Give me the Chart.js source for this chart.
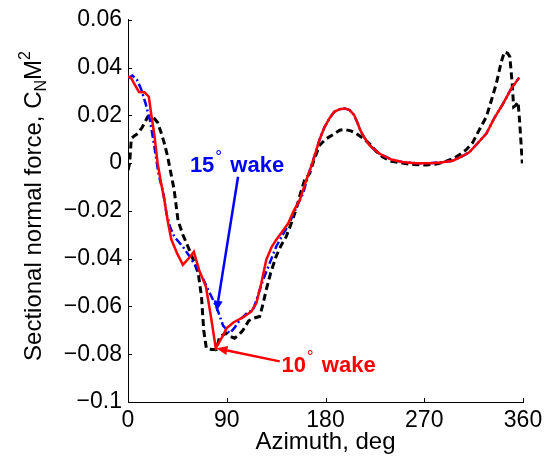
<!DOCTYPE html>
<html>
<head>
<meta charset="utf-8">
<script src="https://cdn.jsdelivr.net/npm/chart.js@4/dist/chart.umd.min.js"></script>
<style>
  html, body { margin: 0; padding: 0; background: #fff; }
  canvas { display: block; }
</style>
</head>
<body>
<canvas id="chart" width="551" height="456"></canvas>
<script>
// ── Axis ticks ────────────────────────────────────────────────
const azTicks = [0, 90, 180, 270, 360];
const cnTicks = [-0.1, -0.08, -0.06, -0.04, -0.02, 0, 0.02, 0.04, 0.06];

// ── 10° wake (red, solid) ─────────────────────────────────────
const redAz = [0, 3, 6, 10, 15, 19, 21, 24, 27, 30, 33, 36.5, 39.5, 45, 50, 57, 60, 65, 71, 75.5, 80,
  86, 90, 96, 106, 112.5, 117, 121.5, 126, 131, 135, 140, 146, 151, 156.5, 162.5, 168, 174.7, 179, 184,
  188, 193, 197.5, 202, 206, 209, 212, 215, 220, 229, 240, 250, 262, 275, 285, 296, 303, 311, 318,
  326.6, 334, 342, 349, 356.5];
const redCn = [0.0363, 0.0355, 0.033, 0.0298, 0.0297, 0.0278, 0.021, 0.012, 0.0, -0.008, -0.015, -0.025,
  -0.032, -0.038, -0.0426, -0.039, -0.0371, -0.045, -0.0517, -0.064, -0.0775,
  -0.0726, -0.069, -0.0667, -0.0642, -0.0621, -0.0586, -0.0503, -0.0405, -0.035, -0.0322, -0.029,
  -0.0252, -0.020, -0.0155, -0.0071, 0.0, 0.010, 0.015, 0.019,
  0.0215, 0.0226, 0.0229, 0.0222, 0.0202, 0.017, 0.0135, 0.011, 0.0075, 0.004, 0.0015, 0.0005, 0.0,
  0.0, 0.0003, 0.001, 0.0025, 0.0045, 0.008,
  0.0124, 0.019, 0.025, 0.031, 0.0358];

// ── 15° wake (blue, dash-dot) ─────────────────────────────────
const blueAz = [0, 4, 8, 12, 16, 20, 24, 28, 32, 35, 38.5, 42.5, 50, 56, 62, 68, 73, 80.5, 86.6, 92.7,
  97, 102, 108, 114, 118, 123, 129, 135, 141, 147, 153, 159.5, 165, 170, 174.7, 179, 184, 188, 193,
  197.5, 202, 206, 209, 212, 215, 220, 229, 240, 250, 262, 275, 285, 296, 303, 311, 318, 326.6, 334,
  342, 349, 356.5];
const blueCn = [0.0355, 0.0367, 0.035, 0.031, 0.025, 0.018, 0.007, -0.005, -0.012, -0.021, -0.027,
  -0.031, -0.035, -0.039, -0.0433, -0.048, -0.053, -0.060, -0.068, -0.0712,
  -0.069, -0.0656, -0.063, -0.0614, -0.056, -0.049, -0.042, -0.035, -0.030, -0.0252, -0.019, -0.0127,
  -0.004, 0.003, 0.010, 0.015, 0.019, 0.0215, 0.0226,
  0.0229, 0.0222, 0.0202, 0.017, 0.0135, 0.011, 0.0075, 0.004, 0.0015, 0.0005, 0.0, 0.0, 0.0003,
  0.001, 0.0025, 0.0045, 0.008, 0.0124, 0.019,
  0.025, 0.031, 0.0358];

// ── Reference (black, dashed) ─────────────────────────────────
const blackAz = [0, 1.5, 3, 6, 9, 13, 18, 21, 24, 27, 30, 33, 36, 39, 42, 45.6, 50, 54.7, 60, 64, 67,
  69, 71.4, 76, 80.5, 83.6, 89.7, 93, 97, 101, 105, 110, 114, 120, 123, 126, 130, 135, 140, 144, 149,
  153, 157, 161, 165.6, 170, 174.7, 180, 187, 193, 197.5, 203, 208, 214, 220, 226, 232, 240, 250, 260,
  272, 282, 290, 296, 302, 308, 314, 320, 326.6, 331, 335.7, 340, 343, 346, 348, 350, 351.5, 353,
  355.5, 357, 359.4];
const blackCn = [-0.003, 0.0, 0.0103, 0.0115, 0.0124, 0.015, 0.0194, 0.0195, 0.0187, 0.017, 0.013,
  0.0085, 0.003, -0.004, -0.011, -0.024, -0.030, -0.035, -0.041, -0.046, -0.056,
  -0.070, -0.0775, -0.078, -0.078, -0.0726, -0.0712, -0.0725, -0.0733, -0.072, -0.0698, -0.066,
  -0.065, -0.0642, -0.059, -0.053, -0.046, -0.039, -0.034, -0.031, -0.025,
  -0.0196, -0.013, -0.007, -0.0043, 0.002, 0.0075, 0.010, 0.012, 0.0138, 0.0141, 0.0135, 0.0124,
  0.0105, 0.0082, 0.005, 0.0026, 0.0008, 0.0, -0.0006,
  -0.0008, -0.0003, 0.0008, 0.0018, 0.0035, 0.0055, 0.0085, 0.0138, 0.0194, 0.026, 0.0333, 0.042,
  0.0465, 0.046, 0.0445, 0.034, 0.0235, 0.024,
  0.0256, 0.017, -0.0001];

// ── Annotations (data units) ──────────────────────────────────
const wakeNotes = [
  { num: '15', color: '#0000ff', at: [56.4, -0.0038], tail: [100.3, -0.0057], tip: [80.6, -0.0622] },
  { num: '10', color: '#ff0000', at: [139.8, -0.0875], tail: [138.3, -0.083], tip: [80.6, -0.0775] }
];

const FONT = "'Liberation Sans', Arial, sans-serif";
const zip = (xs, ys) => xs.map((x, i) => ({ x, y: ys[i] }));

function fmtCn(v) {
  if (v === 0) return '0';
  const s = Math.abs(v).toString();
  return (v < 0 ? '\u2212' : '') + s;
}

function arrow(ctx, x1, y1, x2, y2, color) {
  const ang = Math.atan2(y2 - y1, x2 - x1);
  const len = 11, half = 4.5;
  const bx = x2 - len * Math.cos(ang), by = y2 - len * Math.sin(ang);
  ctx.strokeStyle = color;
  ctx.fillStyle = color;
  ctx.lineWidth = 2.5;
  ctx.beginPath();
  ctx.moveTo(x1, y1);
  ctx.lineTo(bx, by);
  ctx.stroke();
  ctx.beginPath();
  ctx.moveTo(x2, y2);
  ctx.lineTo(bx - half * Math.sin(ang), by + half * Math.cos(ang));
  ctx.lineTo(bx + half * Math.sin(ang), by - half * Math.cos(ang));
  ctx.closePath();
  ctx.fill();
}

// ── Plugin: inner ticks, axis titles, wake labels ─────────────
const decor = {
  id: 'decor',
  afterDraw(chart) {
    const { ctx, chartArea: a, scales: { x, y } } = chart;
    ctx.save();

    // inward tick marks
    ctx.strokeStyle = '#000';
    ctx.lineWidth = 1;
    ctx.beginPath();
    azTicks.forEach(v => {
      const px = Math.round(x.getPixelForValue(v)) + 0.5;
      ctx.moveTo(px, a.bottom); ctx.lineTo(px, a.bottom - 4);
    });
    cnTicks.forEach(v => {
      const py = Math.round(y.getPixelForValue(v)) + 0.5;
      ctx.moveTo(a.left, py); ctx.lineTo(a.left + 4, py);
    });
    ctx.stroke();

    // x title
    ctx.fillStyle = '#000';
    ctx.font = `24px ${FONT}`;
    ctx.textAlign = 'center';
    ctx.textBaseline = 'alphabetic';
    ctx.fillText('Azimuth, deg', (a.left + a.right) / 2, 449);

    // y title with sub/superscripts
    const main = 'Sectional normal force, C';
    ctx.font = `24px ${FONT}`;
    const wMain = ctx.measureText(main).width;
    const wM = ctx.measureText('M').width;
    ctx.font = `16px ${FONT}`;
    const wN = ctx.measureText('N').width;
    const w2 = ctx.measureText('2').width;
    const total = wMain + wN + wM + w2;
    ctx.translate(41, 206);
    ctx.rotate(-Math.PI / 2);
    ctx.textAlign = 'left';
    let cx = -total / 2;
    ctx.font = `24px ${FONT}`;
    ctx.fillText(main, cx, 0); cx += wMain;
    ctx.font = `16px ${FONT}`;
    ctx.fillText('N', cx, 5); cx += wN;
    ctx.font = `24px ${FONT}`;
    ctx.fillText('M', cx, 0); cx += wM;
    ctx.font = `16px ${FONT}`;
    ctx.fillText('2', cx, -11);
    ctx.setTransform(1, 0, 0, 1, 0, 0);

    // wake labels + arrows
    wakeNotes.forEach(n => {
      arrow(ctx, x.getPixelForValue(n.tail[0]), y.getPixelForValue(n.tail[1]),
        x.getPixelForValue(n.tip[0]), y.getPixelForValue(n.tip[1]), n.color);
      const tx = x.getPixelForValue(n.at[0]);
      const ty = y.getPixelForValue(n.at[1]);
      ctx.fillStyle = n.color;
      ctx.textAlign = 'left';
      ctx.font = `bold 22px ${FONT}`;
      ctx.fillText(n.num, tx, ty);
      const wNum = ctx.measureText(n.num).width;
      ctx.font = `17px ${FONT}`;
      ctx.fillText('\u00b0', tx + wNum + 1, ty - 10);
      ctx.font = `bold 22px ${FONT}`;
      ctx.fillText('wake', tx + wNum + 16, ty);
    });

    ctx.restore();
  }
};

new Chart(document.getElementById('chart'), {
  type: 'line',
  data: {
    datasets: [
      { label: 'baseline', data: zip(blackAz, blackCn), borderColor: '#000', borderWidth: 3,
        borderDash: [7, 4], order: 3 },
      { label: '15° wake', data: zip(blueAz, blueCn), borderColor: '#0000ff', borderWidth: 2.5,
        borderDash: [8, 3, 2, 3], order: 2 },
      { label: '10° wake', data: zip(redAz, redCn), borderColor: '#ff0000', borderWidth: 2.5, order: 1 }
    ]
  },
  options: {
    responsive: false,
    animation: false,
    devicePixelRatio: 1,
    layout: { padding: { left: 0, right: 28, top: 19, bottom: 0 } },
    elements: { point: { radius: 0 }, line: { tension: 0, fill: false } },
    plugins: { legend: { display: false }, tooltip: { enabled: false } },
    scales: {
      x: {
        type: 'linear', min: 0, max: 360,
        afterBuildTicks: s => { s.ticks = azTicks.map(v => ({ value: v })); },
        afterFit: s => { s.height = 54; },
        ticks: { color: '#000', font: { family: FONT, size: 23 }, padding: 5, maxRotation: 0, autoSkip: false },
        grid: { drawOnChartArea: false, drawTicks: false },
        border: { color: '#000', width: 1 }
      },
      y: {
        type: 'linear', min: -0.1, max: 0.06,
        afterBuildTicks: s => { s.ticks = cnTicks.map(v => ({ value: v })); },
        afterFit: s => { s.width = 128; },
        ticks: { color: '#000', font: { family: FONT, size: 23 }, padding: 6, callback: v => fmtCn(v) },
        grid: { drawOnChartArea: false, drawTicks: false },
        border: { color: '#000', width: 1 }
      }
    }
  },
  plugins: [decor]
});
</script>
</body>
</html>
